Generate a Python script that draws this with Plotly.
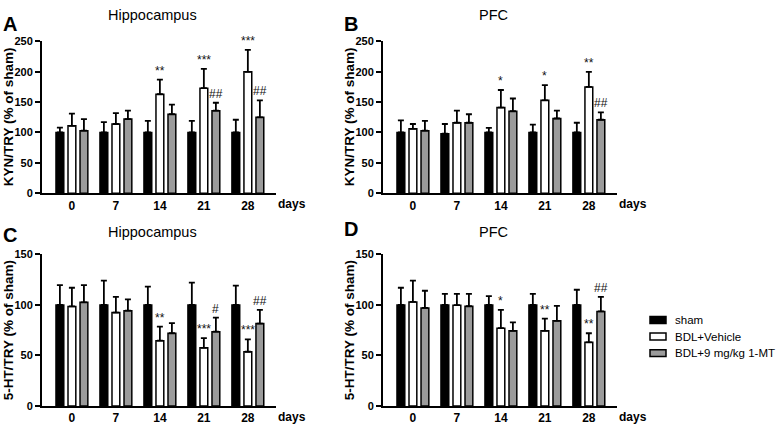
import plotly.graph_objects as go

days = [0, 7, 14, 21, 28]
day_labels = ["0", "7", "14", "21", "28"]
series_names = ["sham", "BDL+Vehicle", "BDL+9 mg/kg 1-MT"]
series_colors = ["#000000", "#ffffff", "#9b9b9b"]

# Panel A: Hippocampus KYN/TRY
a_sham = [100, 100, 100, 100, 100]
a_sham_err = [8, 17, 19, 19, 21]
a_veh = [111, 114, 163, 173, 200]
a_veh_err = [20, 18, 24, 32, 36]
a_mt = [103, 122, 130, 136, 125]
a_mt_err = [19, 14, 16, 13, 28]

# Panel B: PFC KYN/TRY
b_sham = [100, 98, 100, 100, 100]
b_sham_err = [20, 16, 7.5, 13, 16]
b_veh = [106, 116, 141, 153, 175]
b_veh_err = [8, 20, 29, 25, 25]
b_mt = [103, 116, 135, 123, 121]
b_mt_err = [16, 14, 21, 13, 12]

# Panel C: Hippocampus 5-HT/TRY
c_sham = [100, 100, 100, 100, 100]
c_sham_err = [19.6, 24, 18, 22, 19]
c_veh = [98.5, 92.4, 64.6, 57.6, 53.7]
c_veh_err = [18.5, 15.6, 14, 9.6, 12.3]
c_mt = [102.6, 94.3, 72, 73.5, 81.5]
c_mt_err = [17, 11.2, 10, 14, 13.5]

# Panel D: PFC 5-HT/TRY
d_sham = [100, 100, 100, 100, 100]
d_sham_err = [17, 11, 8.6, 11, 15]
d_veh = [103, 99.7, 77, 74.4, 63]
d_veh_err = [21, 11.3, 18, 12, 9]
d_mt = [97, 98.7, 74.4, 84.3, 93.6]
d_mt_err = [17, 12.3, 8.3, 14.7, 14.4]

# significance marks: (group index, series index, text)
a_marks = [(2, 1, "**"), (3, 1, "***"), (3, 2, "##"), (4, 1, "***"), (4, 2, "##")]
b_marks = [(2, 1, "*"), (3, 1, "*"), (4, 1, "**"), (4, 2, "##")]
c_marks = [(2, 1, "**"), (3, 1, "***"), (3, 2, "#"), (4, 1, "***"), (4, 2, "##")]
d_marks = [(2, 1, "*"), (3, 1, "**"), (4, 1, "**"), (4, 2, "##")]

FONT = "Liberation Sans, Arial, sans-serif"
W, H = 778, 430

def px_x(x):
    return x / W

def px_y(y):
    return 1 - y / H

panels = [
    dict(vals=[a_sham, a_veh, a_mt], errs=[a_sham_err, a_veh_err, a_mt_err], marks=a_marks,
         ymax=250, dtick=50, title="Hippocampus", ytitle="KYN/TRY (% of sham)", letter="A",
         xdom=(42, 276), ydom=(192.5, 36.5), title_xy=(152, 9), letter_xy=(10, 19), ytitle_x=8),
    dict(vals=[b_sham, b_veh, b_mt], errs=[b_sham_err, b_veh_err, b_mt_err], marks=b_marks,
         ymax=250, dtick=50, title="PFC", ytitle="KYN/TRY (% of sham)", letter="B",
         xdom=(383, 617), ydom=(192.5, 36.5), title_xy=(493, 9), letter_xy=(351, 19), ytitle_x=349),
    dict(vals=[c_sham, c_veh, c_mt], errs=[c_sham_err, c_veh_err, c_mt_err], marks=c_marks,
         ymax=150, dtick=50, title="Hippocampus", ytitle="5-HT/TRY (% of sham)", letter="C",
         xdom=(42, 276), ydom=(411.5, 255.5), title_xy=(152, 232), letter_xy=(10, 236), ytitle_x=8),
    dict(vals=[d_sham, d_veh, d_mt], errs=[d_sham_err, d_veh_err, d_mt_err], marks=d_marks,
         ymax=150, dtick=50, title="PFC", ytitle="5-HT/TRY (% of sham)", letter="D",
         xdom=(383, 617), ydom=(411.5, 255.5), title_xy=(493, 232), letter_xy=(351, 229), ytitle_x=349),
]

BARGAP = 0.18
slot = (1 - BARGAP) / 3
xpos = list(range(len(days)))

fig = go.Figure()
annotations = []
shapes = []

for i, p in enumerate(panels):
    n = "" if i == 0 else str(i + 1)
    xa, ya = "x" + n, "y" + n
    for s in range(3):
        fig.add_trace(go.Bar(
            x=xpos, y=p["vals"][s], name=series_names[s], xaxis=xa, yaxis=ya,
            marker=dict(color=series_colors[s], line=dict(color="black", width=1.5)),
            error_y=dict(type="data", array=p["errs"][s], arrayminus=[0] * len(days),
                         symmetric=False, color="black", thickness=1.8, width=3),
            showlegend=False, offsetgroup=str(s), hoverinfo="skip",
        ))
    layout_x = dict(
        domain=[px_x(p["xdom"][0]), px_x(p["xdom"][1])], anchor=ya,
        range=[-0.68, 4.64], showline=True, linecolor="black", linewidth=2,
        tickmode="array", tickvals=xpos, ticktext=day_labels, ticks="",
        tickfont=dict(family=FONT, size=12, color="black", weight="bold"),
        showgrid=False, zeroline=False, fixedrange=True, ticklabelstandoff=0,
    )
    layout_y = dict(
        domain=[px_y(p["ydom"][0]), px_y(p["ydom"][1])], anchor=xa,
        range=[0, p["ymax"]], dtick=p["dtick"], tick0=0, showline=True, linecolor="black",
        linewidth=2, ticks="outside", ticklen=5, tickwidth=2, tickcolor="black",
        tickfont=dict(family=FONT, size=11, color="black", weight="bold"),
        showgrid=False, zeroline=False, fixedrange=True,
    )
    fig.update_layout(**{"xaxis" + n: layout_x, "yaxis" + n: layout_y})

    # panel title
    annotations.append(dict(text=p["title"], x=px_x(p["title_xy"][0]), y=px_y(p["title_xy"][1]),
                            xref="paper", yref="paper", showarrow=False, xanchor="center", yanchor="middle",
                            font=dict(family=FONT, size=14.5, color="black")))
    # panel letter
    annotations.append(dict(text="<b>" + p["letter"] + "</b>", x=px_x(p["letter_xy"][0]), y=px_y(p["letter_xy"][1]),
                            xref="paper", yref="paper", showarrow=False, xanchor="center", yanchor="middle",
                            font=dict(family=FONT, size=20, color="black")))
    # y title
    annotations.append(dict(text="<b>" + p["ytitle"] + "</b>", x=px_x(p["ytitle_x"]),
                            y=(px_y(p["ydom"][0]) + px_y(p["ydom"][1])) / 2,
                            xref="paper", yref="paper", showarrow=False, textangle=-90,
                            xanchor="center", yanchor="middle",
                            font=dict(family=FONT, size=13.5, color="black")))
    # days label
    annotations.append(dict(text="<b>days</b>", x=px_x(p["xdom"][1]), y=0,
                            xref="paper", yref=ya + " domain", showarrow=False,
                            xanchor="left", yanchor="top", yshift=-2,
                            font=dict(family=FONT, size=12, color="black")))
    # significance marks
    for g, s, txt in p["marks"]:
        top = p["vals"][s][g] + p["errs"][s][g]
        annotations.append(dict(text=txt, x=g + (s - 1) * slot, y=top, xref=xa, yref=ya,
                                showarrow=False, xanchor="center", yanchor="bottom", yshift=0,
                                font=dict(family=FONT, size=12, color="#111")))

# legend (drawn manually)
legend_rows = [323, 340, 357]
for s in range(3):
    cy = legend_rows[s]
    shapes.append(dict(type="rect", xref="paper", yref="paper",
                       x0=px_x(650), x1=px_x(666), y0=px_y(cy + 3.5), y1=px_y(cy - 3.5),
                       fillcolor=series_colors[s], line=dict(color="black", width=1.5)))
    annotations.append(dict(text=series_names[s], x=px_x(673), y=px_y(cy), xref="paper", yref="paper",
                            showarrow=False, xanchor="left", yanchor="middle",
                            font=dict(family=FONT, size=11.5, color="black")))

fig.update_layout(
    width=W, height=H, margin=dict(l=0, r=0, t=0, b=0),
    paper_bgcolor="white", plot_bgcolor="white",
    barmode="group", bargap=BARGAP, bargroupgap=0.35,
    showlegend=False, annotations=annotations, shapes=shapes,
    font=dict(family=FONT, color="black"), hovermode=False,
)

fig.write_html("out.html", config={"displayModeBar": False},
               post_script="document.body.style.margin='0';document.body.style.padding='0';")
